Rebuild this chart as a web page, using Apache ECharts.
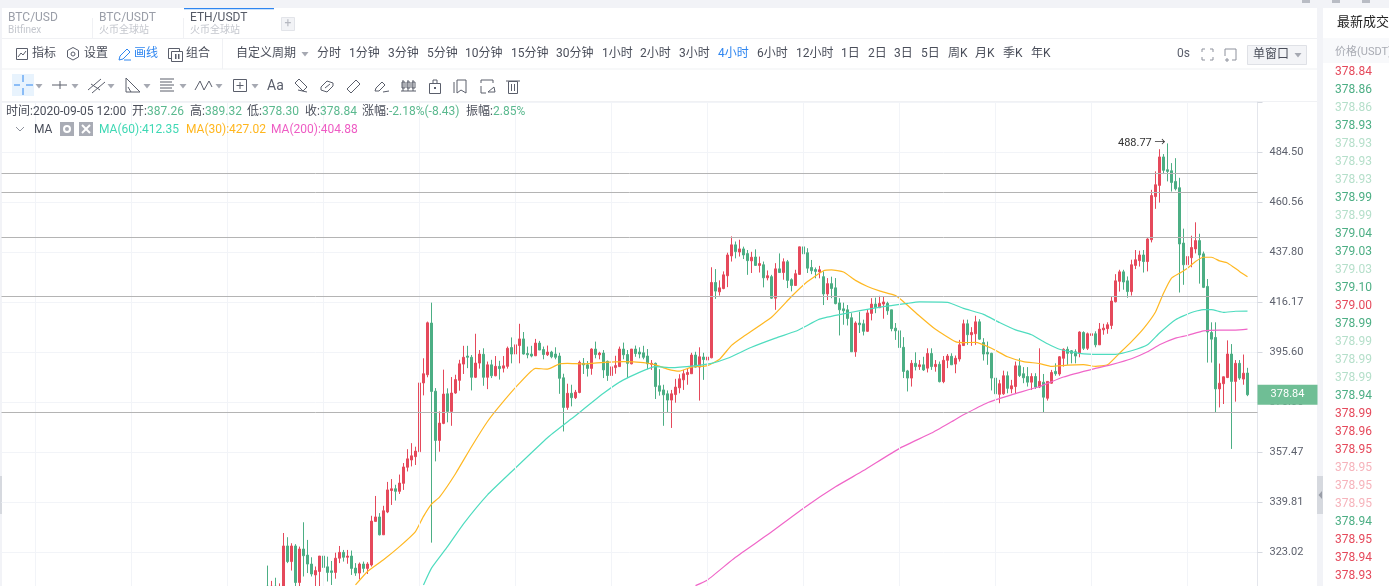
<!DOCTYPE html>
<html><head><meta charset="utf-8">
<style>html,body{margin:0;padding:0;background:#f2f3f7;overflow:hidden;height:586px}#c{width:1389px;height:640px}</style>
<script src="https://cdn.jsdelivr.net/npm/echarts@6/dist/echarts.min.js"></script>
</head><body><div id="c"></div>
<script>
const firstCandle = 66, categoryCount = 314;
const opens = [
312,309,312,309,311,325.0,319.9,325.0,313.2,324.0,
322.0,319.1,315.6,316.7,321.7,318.2,316.9,316.4,321.0,322.9,
321.3,321.7,317.8,316.2,319.1,317.7,318.8,333.2,334.7,328.7,
336.4,343.8,344.4,343.5,346.3,352.0,354.6,355.8,357.6,383.4,
386.6,407.4,380.2,361.7,368.0,379.2,372.5,379.5,384.4,390.8,
394.0,393.5,385.6,391.2,394.7,385.6,390.5,386.2,389.9,389.2,
389.9,397.4,394.8,398.2,400.9,395.0,394.8,394.1,399.2,396.6,
394.5,395.6,394.8,394.0,385.4,374.0,379.4,377.7,379.7,391.1,
390.5,389.1,396.8,394.5,395.2,391.9,386.3,389.4,389.8,396.8,
394.6,390.9,396.8,395.6,395.3,394.0,390.7,391.1,382.3,380.7,
379.2,376.8,378.9,381.5,384.6,386.7,387.0,394.4,389.6,393.6,
392.4,393.3,424.5,420.5,421.9,427.4,436.1,441.0,437.8,439.2,
437.1,433.9,435.6,431.9,432.2,426.5,427.0,417.8,430.4,428.8,
433.5,425.7,423.2,428.0,440.1,437.5,431.0,430.1,429.1,427.0,
419.6,424.0,422.2,415.8,413.3,412.9,409.6,395.7,407.4,407.1,
404.0,411.4,415.3,413.8,415.3,415.6,412.9,405.3,404.2,397.5,
388.1,385.3,391.1,389.8,390.5,389.2,395.0,389.8,390.7,383.9,
392.3,393.9,390.8,392.8,398.2,407.1,402.6,403.0,407.9,399.4,
395.5,395.1,385.3,379.0,379.2,386.2,381.1,382.0,390.1,387.0,
385.9,383.7,385.9,381.8,383.7,377.5,383.3,387.9,386.9,393.1,
396.7,396.1,395.7,395.1,403.5,397.1,402.3,403.0,398.5,404.6,
405.1,406.4,416.3,425.0,429.1,425.2,420.6,431.9,434.0,436.5,
433.6,443.3,463.1,468.4,482.1,475.9,475.4,470.3,467.3,441.8,
432.2,435.3,439.2,442.9,437.0,422.8,403.5,401.5,381.1,383.1,
385.5,394.8,384.0,391.1,384.9,387.26];
const closes = [
308,312,309,311,325.0,319.9,325.0,313.2,324.0,321.8,
319.1,315.9,317.0,321.7,318.0,316.4,316.4,321.0,322.9,321.3,
321.7,317.7,316.2,319.1,317.7,319.1,333.3,334.7,328.7,336.8,
344.0,344.4,343.5,346.4,352.1,355.0,356.1,357.8,383.4,387.0,
407.5,380.1,361.7,368.1,379.1,372.5,379.5,384.7,390.9,393.5,
393.5,385.6,391.2,394.8,385.6,390.5,386.2,389.9,389.0,390.1,
397.1,394.8,398.5,400.9,394.8,394.5,394.0,399.2,396.4,394.6,
395.6,393.7,393.5,385.2,374.0,379.4,377.7,379.8,391.5,390.5,
389.1,396.8,394.6,395.2,388.5,386.3,389.7,390.2,396.8,394.5,
391.1,396.8,395.0,394.8,393.5,390.9,391.1,382.0,380.2,378.8,
376.8,379.2,381.8,385.0,387.0,387.5,394.4,389.6,393.7,392.6,
393.6,424.5,420.8,422.2,427.8,436.5,441.0,438.0,439.2,436.5,
434.0,435.5,431.9,432.7,426.5,427.4,417.8,430.4,428.8,433.5,
425.4,423.2,428.3,440.1,437.0,430.7,429.6,429.3,430.0,419.6,
424.0,421.9,415.5,412.9,412.5,409.3,395.7,407.4,406.7,404.0,
411.6,415.3,413.8,415.6,416.2,412.5,405.1,404.2,397.4,387.9,
385.3,391.1,389.8,390.5,388.5,395.0,389.8,390.7,383.9,392.3,
394.0,390.5,393.1,398.5,407.1,402.6,403.5,407.9,400.8,394.8,
394.8,385.3,379.2,383.1,386.2,381.3,382.3,390.1,386.3,385.4,
383.7,385.9,381.8,384.0,377.9,384.0,387.5,387.0,393.7,396.7,
395.1,395.1,394.0,403.7,397.1,403.0,403.0,398.5,404.9,405.3,
406.7,416.6,425.2,429.1,424.7,420.6,432.2,434.4,436.5,433.6,
443.6,463.6,468.7,482.1,475.6,475.1,469.8,466.8,441.4,432.2,
435.8,439.8,442.9,436.5,422.4,403.7,400.8,381.1,383.3,385.8,
394.8,384.0,391.1,385.3,387.2,378.84];
const lows = [
305,306,307,307,308,319.4,317.0,311,311.5,315.1,
316.2,315.1,311.0,310.5,313.5,313.5,312.4,314.4,319.4,319.9,
319.2,315.6,315.3,314.2,316.4,315.9,318.3,333.2,328.5,328.7,
336.0,338.8,340.3,342.6,344.0,350.5,352.3,352.8,357.6,378.6,
385.6,326.1,354.1,357.6,367.7,368.4,367.1,379.2,380.4,386.9,
389.2,380.5,385.3,389.0,382.3,381.0,385.3,386.0,384.7,387.5,
389.0,391.1,394.8,391.1,394.6,393.1,393.5,394.0,396.4,392.7,
394.0,393.1,392.7,379.2,365.0,373.1,374.4,377.2,379.4,386.9,
385.9,386.6,393.1,392.7,385.3,384.2,386.2,387.0,389.8,392.7,
385.3,390.7,393.7,393.1,392.7,388.8,388.5,377.2,378.5,367.1,
372.2,366.3,375.8,379.4,380.7,382.7,387.0,389.4,376.6,384.6,
387.5,393.1,417.5,418.9,421.6,422.5,433.6,435.0,435.8,434.7,
427.8,428.6,431.7,428.8,422.4,425.4,417.5,412.9,428.6,425.7,
422.1,420.7,423.1,427.8,434.3,428.6,428.1,426.3,426.3,414.9,
417.0,417.8,415.2,402.3,406.7,406.4,395.7,393.7,403.3,402.3,
403.7,408.5,411.5,413.6,409.2,410.8,404.0,400.5,395.1,385.3,
380.1,382.0,388.3,388.5,388.1,387.5,388.5,387.8,383.6,383.3,
389.2,390.5,387.2,391.8,398.1,398.5,398.1,398.5,400.5,392.2,
390.5,380.5,370.2,375.6,378.8,379.4,379.4,379.4,385.7,383.3,
382.0,380.7,381.1,381.4,372.1,376.6,383.1,386.2,386.2,389.8,
390.5,391.1,391.1,393.5,396.4,396.4,398.5,397.5,398.5,402.6,
403.0,404.9,416.0,420.6,421.4,418.0,418.9,430.3,431.4,428.8,
429.3,442.1,457.4,460.3,473.8,470.3,465.5,466.0,420.2,423.5,
421.1,431.1,437.2,424.0,422.1,391.4,391.4,372.2,374.0,375.3,
385.3,358.6,376.2,384.6,382.7,378.30];
const highs = [
318.6,313.7,314.7,312.9,329.3,327.9,325.9,325.6,324.8,332.9,
327.0,321.3,318.3,321.7,322.9,321.5,320.1,322.8,325.0,323.7,
323.7,323.5,319.4,319.6,319.9,319.7,335.1,341.9,336.0,338.5,
346.8,347.8,345.8,349.4,353.5,358.5,360.7,359.4,388.6,393.1,
408.0,415.9,381.4,372.5,388.6,381.3,385.7,386.6,392.5,398.1,
398.1,394.4,403.0,396.4,397.1,391.8,392.5,394.0,392.1,394.0,
397.8,401.5,401.9,407.1,403.7,397.8,398.1,400.9,400.1,397.8,
398.2,396.1,397.5,395.3,387.0,383.1,382.7,380.7,392.2,393.2,
392.0,397.1,399.8,395.7,396.4,392.2,391.1,394.1,397.8,399.4,
396.4,396.8,398.2,397.5,398.1,396.8,392.4,391.4,388.8,382.7,
380.5,380.7,385.0,386.8,388.5,389.2,395.3,395.7,397.5,395.3,
395.0,431.1,430.3,425.4,429.3,437.5,444.8,442.5,443.3,440.2,
438.7,437.9,439.0,435.8,433.6,429.7,427.8,432.9,437.2,435.0,
434.3,426.3,430.0,440.2,445.1,439.5,434.3,431.0,431.7,429.3,
426.4,427.0,426.4,417.8,415.9,414.9,411.5,408.1,412.1,408.8,
412.9,417.8,418.0,418.8,418.5,416.3,412.9,407.4,406.4,401.6,
388.5,392.4,395.5,392.4,393.7,397.1,397.1,392.4,391.8,394.0,
394.8,395.1,394.2,400.5,408.8,408.8,405.7,410.4,409.0,401.2,
399.8,395.3,387.5,384.6,388.2,387.9,384.6,391.8,393.1,389.6,
389.6,387.2,387.2,397.1,386.9,384.0,388.5,391.1,394.0,397.1,
397.8,396.4,396.7,404.0,404.0,403.5,405.7,404.0,407.4,407.1,
407.7,418.5,428.1,430.0,430.0,427.1,434.4,438.7,438.4,438.7,
444.0,466.3,475.1,485.9,483.5,488.77,479.1,481.5,472.0,448.3,
439.0,445.1,451.2,446.0,438.0,426.0,407.7,407.7,391.0,385.9,
400.3,398.8,392.4,392.4,394.6,389.32];

// moving averages: [candle index, value] read at sampled positions
const ma30 = [[88,312.4],[91,316.7],[95,320.5],[99,324.8],[103,329.8],[105,334.9],[107,339.1],[109,341.5],[113,349.7],[117,359.4],[121,368.7],[124,374.5],[129,383.3],[133,389.1],[136,388.8],[139,390.9],[141,391.1],[145,390.9],[150,391.5],[155,391.8],[160,391.4],[163,390.5],[166,388.8],[169,388.0],[172,389.6],[176,390.2],[179,392.7],[182,398.3],[185,401.9],[192,409.8],[197,418.5],[201,424.9],[205,429.6],[207,430.0],[210,429.0],[213,425.4],[216,422.8],[219,420.9],[223,418.9],[225,416.3],[229,410.3],[233,404.8],[238,399.8],[240,399.4],[243,399.5],[247,397.1],[251,393.7],[255,391.8],[259,391.0],[262,389.9],[266,390.4],[270,390.6],[273,389.9],[276,390.5],[279,395.1],[282,399.8],[285,405.1],[288,412.0],[290,419.9],[292,426.4],[294,428.5],[296,430.7],[298,433.6],[300,435.5],[302,435.5],[304,433.9],[306,433.0],[309,429.3],[311,427.02]];
const ma60 = [[105,312.4],[107,317.8],[111,324.8],[115,332.4],[121,342.3],[127,350.4],[136,362.7],[142,369.7],[150,379.4],[155,384.6],[163,389.8],[167,389.4],[173,390.2],[177,391.1],[181,393.1],[187,397.5],[193,401.2],[198,404.0],[200,405.6],[204,409.0],[210,411.2],[218,413.7],[226,415.6],[229,416.2],[236,416.0],[240,413.5],[245,411.0],[249,407.6],[253,404.6],[257,402.6],[261,398.9],[264,396.7],[269,395.1],[274,394.7],[278,394.7],[282,396.1],[286,398.5],[289,403.3],[293,408.8],[297,411.8],[300,413.0],[302,413.0],[305,411.8],[308,412.3],[311,412.35]];
const ma200 = [[173,312.2],[176,314.0],[183,321.3],[191,328.7],[200,337.7],[208,345.1],[215,350.8],[224,358.8],[232,364.4],[237,368.6],[240,371.2],[246,375.8],[252,378.8],[259,382.0],[265,385.7],[273,389.1],[277,390.6],[282,392.9],[286,395.7],[289,398.5],[293,401.2],[296,402.3],[300,404.2],[304,404.5],[308,404.5],[311,404.88]];

const tickLabels = ['323.02','339.81','357.47','376.06','395.60','416.17','437.80','460.56','484.50'];
const drawnLevels = [474.3,465.0,444.5,418.6,372.2];
const gridColumns = [8,32,56,80,104,128,152,176,200,224,248,272,296];
const lastPrice = 378.84, peakIndex = 291, peakPrice = 488.77;

const tabs = [['BTC/USD','Bitfinex',8,'#9a9ea8'],['BTC/USDT','火币全球站',99,'#9a9ea8'],['ETH/USDT','火币全球站',190,'#555a66']];
const leftTools = [['指标',32],['设置',84],['画线',134],['组合',186]];
const periods = [['分时',317],['1分钟',349],['3分钟',388],['5分钟',427],['10分钟',465],['15分钟',511],['30分钟',556],['1小时',602],['2小时',640],['3小时',679],['4小时',718],['6小时',757],['12小时',796],['1日',841],['2日',868],['3日',894],['5日',921],['周K',948],['月K',975],['季K',1003],['年K',1031]];
const statusItems = [['时间:2020-09-05 12:00',6,'#4a4e5a'],['开:',132,'#4a4e5a'],['387.26',147,'#5bb98f'],['高:',190,'#4a4e5a'],['389.32',205,'#5bb98f'],['低:',247,'#4a4e5a'],['378.30',262,'#5bb98f'],['收:',305,'#4a4e5a'],['378.84',320,'#5bb98f'],['涨幅:',362,'#4a4e5a'],['-2.18%(-8.43)',389,'#5bb98f'],['振幅:',466,'#4a4e5a'],['2.85%',493,'#5bb98f']];
const maItems = [['MA(60):412.35',99,'#3fd8b4'],['MA(30):427.02',186,'#ffb61e'],['MA(200):404.88',271,'#ee5cc4']];
const G='#4cae84',GL='#b5dfca',R='#e5495b',RL='#f6b3bb';
const trades = [['378.84',R],['378.86',G],['378.86',GL],['378.93',G],['378.93',GL],['378.93',GL],['378.93',GL],['378.99',G],['378.99',GL],['379.04',G],['379.03',G],['379.03',GL],['379.10',G],['379.00',R],['378.99',G],['378.99',GL],['378.99',GL],['378.99',GL],['378.94',G],['378.99',R],['378.96',R],['378.95',R],['378.95',RL],['378.95',RL],['378.95',RL],['378.94',G],['378.95',R],['378.94',R],['378.93',R]];

const FONT='Roboto,"Noto Sans CJK SC",sans-serif';
const logBase = Math.pow(323.02, 1/114);
const candles = [];
for (let i=0;i<categoryCount;i++){
  const k=i-firstCandle;
  candles.push(k>=0&&k<opens.length?[opens[k],closes[k],lows[k],highs[k]]:['-','-','-','-']);
}
const categories=[]; const t0=Date.UTC(2020,8,5,12)-311*4*3600e3;
for(let i=0;i<categoryCount;i++){categories.push(new Date(t0+i*4*3600e3).toISOString().slice(0,16).replace('T',' '));}

const g=[];
const T=(x,y,text,fill,size,extra)=>g.push({type:'text',z:20,silent:true,style:Object.assign({x,y,text,fill,font:(size||12)+'px '+FONT,textVerticalAlign:'middle'},extra||{})});
const B=(x,y,w,h,fill,stroke,z)=>g.push({type:'rect',z:z==null?-5:z,silent:true,shape:{x,y,width:w,height:h},style:{fill:fill||'none',stroke:stroke||'none',lineWidth:1}});
const P=(pts,stroke,w)=>g.push({type:'polyline',z:20,silent:true,shape:{points:pts},style:{stroke,fill:'none',lineWidth:w||1}});
const Tri=(x,y,c)=>g.push({type:'polygon',z:20,silent:true,shape:{points:[[x-3.5,y-2],[x+3.5,y-2],[x,y+2.5]]},style:{fill:c||'#a6a9b2'}});

// panels
B(0,0,1389,640,'#f2f3f7');
B(2,8,1315,632,'#ffffff');
B(1323,8,66,632,'#ffffff');
B(1323,38,66,25,'#f8f9fb');
B(1302,0,8,3,'#b9bcc4');B(1332,0,8,3,'#b9bcc4');B(1362,0,8,3,'#b9bcc4');
B(2,38,1315,1,'#f0f1f4');B(2,68.5,1315,1,'#f0f1f4');B(2,101,1315,1,'#f0f1f4');
B(222,39,1,30,'#f0f1f4');B(92,18,1,20,'#f0f1f4');B(183,18,1,20,'#f0f1f4');
B(184,8,90,1.2,'#2f86f0');
B(1317,476,6,38,'#d6d9df');B(0,476,2,38,'#d6d9df');
g.push({type:'polygon',z:20,silent:true,shape:{points:[[1318.5,495],[1322,491],[1322,499]]},style:{fill:'#9a9ea8'}});
// tabs
tabs.forEach(t=>{T(t[2],18,t[0],t[3],12);T(t[2],30,t[1],'#c4c7ce',10);});
B(281.5,17.5,13,13,'#f2f3f6','#e2e4e9',1);
T(288,24,'+','#b5b8c0',12,{textAlign:'center'});
// toolbar row
leftTools.forEach(t=>T(t[1],54,t[0],t[0]==='画线'?'#2f86f0':'#4a4e5a',12));
B(16.5,48.5,11,11,'none','#5a5e6b',20);P([[18,57],[21,53],[23,55],[26,51]],'#5a5e6b');
g.push({type:'polygon',z:20,silent:true,shape:{points:[[73,47.5],[78.5,50.5],[78.5,57],[73,60],[67.5,57],[67.5,50.5]]},style:{fill:'none',stroke:'#5a5e6b',lineWidth:1}});
g.push({type:'circle',z:20,silent:true,shape:{cx:73,cy:54,r:2},style:{fill:'none',stroke:'#5a5e6b'}});
P([[119,60],[120,56],[127,49],[130,52],[123,59],[119,60]],'#2f86f0');P([[124,60],[131,60]],'#2f86f0');
B(168.5,48.5,11,10,'none','#5a5e6b',20);B(171.5,51.5,11,10,'#ffffff','#5a5e6b',21);B(175,54,1.5,5,'#5a5e6b',null,22);B(178,54,1.5,5,'#5a5e6b',null,22);
T(236,54,'自定义周期','#4a4e5a',12);Tri(305,54);
periods.forEach(p=>T(p[1],54,p[0],p[0]==='4小时'?'#2f86f0':'#4a4e5a',12));
T(1177,54,'0s','#5a5e6b',12);
[[1202,49,1,1],[1213,49,-1,1],[1202,60,1,-1],[1213,60,-1,-1]].forEach(a=>{P([[a[0],a[1]+3*a[3]],[a[0],a[1]],[a[0]+3*a[2],a[1]]],'#8d919c');});
P([[1225,49],[1236,49],[1236,60],[1232,60]],'#8d919c');P([[1225,49],[1225,56]],'#8d919c');P([[1225,60],[1229,60]],'#8d919c');P([[1227,58],[1227,62]],'#8d919c');
B(1247.5,45.5,59,19,'#f3f4f7','#dfe1e6',1);
T(1253,55,'单窗口','#4a4e5a',12);Tri(1298,55);
// drawing tools row
B(12,74,22,22,'#e8f3fd',null,1);
P([[23,75],[23,82]],'#2f86f0');P([[23,88],[23,95]],'#2f86f0');P([[14,85],[20,85]],'#2f86f0');P([[26,85],[33,85]],'#2f86f0');
[39,75,111,147,183,219,255].forEach(x=>Tri(x,86));
const ic='#5a5e6b';
P([[52,85],[67,85]],ic);P([[60,81],[60,89]],ic);
P([[88,90],[101,79]],ic);P([[92,93],[105,82]],ic);P([[91,84],[100,90]],ic);
P([[126,78],[126,92],[140,92],[126,78]],ic);P([[131,92],[128,87]],ic);
[79,82,85,88,91].forEach((y,i)=>P([[160,y],[i%2?172:174,y]],ic));
P([[195,90],[200,81],[204,90],[209,81],[212,87]],ic);
B(233.5,79.5,13,12,'none',ic,20);P([[240,82],[240,89]],ic);P([[236.5,85.5],[243.5,85.5]],ic);
T(267,86,'Aa',ic,14);
[[295,80],[321,80],[347,80],[375,80],[402,80],[429,80],[454,80],[481,80],[507,80]].forEach((a,i)=>{
  const x=a[0],y=a[1];
  if(i===0){P([[x,y+3],[x+4,y-1],[x+12,y+7],[x+8,y+11],[x,y+3]],ic);P([[x+3,y+10],[x+12,y+12]],ic);}
  if(i===1){P([[x,y+7],[x+6,y+1],[x+12,y+3],[x+12,y+6],[x+6,y+12],[x,y+10],[x,y+7]],ic);P([[x+4,y+8],[x+9,y+4]],ic);}
  if(i===2){P([[x,y+9],[x+9,y],[x+13,y+4],[x+4,y+13],[x,y+9]],ic);}
  if(i===3){P([[x,y+11],[x+1,y+8],[x+7,y+2],[x+10,y+5],[x+4,y+11],[x,y+11]],ic);P([[x+8,y+12],[x+14,y+11]],ic);}
  if(i===4){[1,6,11].forEach(d=>{B(x+d-1,y+2,3,6,'none',ic,20);P([[x+d,y],[x+d,y+11]],ic);});P([[x-1,y+11],[x+14,y+11]],ic);}
  if(i===5){B(x+.5,y+3.5,11,10,'none',ic,20);P([[x+4,y+3],[x+4,y],[x+8,y],[x+8,y+3]],ic);B(x+5,y+7,2,2,ic,null,20);}
  if(i===6){P([[x+3,y],[x+12,y],[x+12,y+13],[x+7,y+10],[x+3,y+13],[x+3,y]],ic);P([[x,y+2],[x,y+13]],ic);}
  if(i===7){P([[x,y+3],[x,y],[x+12,y],[x+12,y+3]],ic);P([[x,y+6],[x,y+13],[x+5,y+13]],ic);P([[x+7,y+12],[x+13,y+7],[x+14,y+12],[x+7,y+12]],ic);}
  if(i===8){P([[x-1,y+1],[x+13,y+1]],ic);B(x+1.5,y+1.5,9,12,'none',ic,20);P([[x+4.5,y+4],[x+4.5,y+11]],ic);P([[x+7.5,y+4],[x+7.5,y+11]],ic);}
});
// status rows
statusItems.forEach(s=>T(s[1],111.5,s[0],s[2],12));
P([[16,127],[20,131],[24,127]],'#8d919c');
T(34,129.5,'MA','#4a4e5a',12);
B(60,122,14,14,'#a9acb5',null,1);g.push({type:'circle',z:20,silent:true,shape:{cx:67,cy:129,r:3},style:{fill:'none',stroke:'#fff',lineWidth:2}});
B(79,122,14,14,'#a9acb5',null,1);P([[82,125],[90,133]],'#fff',2);P([[90,125],[82,133]],'#fff',2);
maItems.forEach(s=>T(s[1],129.5,s[0],s[2],12));
// trades panel
T(1337,23,'最新成交','#222',13);
T(1335,52,'价格(USDT)','#a8abb3',11);
trades.forEach((r,i)=>T(1335,72+18*i,r[0],r[1],12));

const chart=echarts.init(document.getElementById('c'),null,{renderer:'canvas'});
chart.setOption({
  animation:false,
  backgroundColor:'transparent',
  graphic:{elements:g},
  grid:{left:1.5,width:1256,top:102,height:500,containLabel:false,outerBoundsMode:'none'},
  xAxis:{type:'category',data:categories,boundaryGap:true,axisLine:{show:false},axisTick:{show:false},axisLabel:{show:false},splitLine:{show:false}},
  yAxis:{type:'log',logBase:logBase,position:'right',scale:true,
    min:Math.pow(logBase,113),max:Math.pow(logBase,123),interval:1,
    axisLine:{show:true,lineStyle:{color:'#e4e6ec',width:1}},
    axisTick:{show:true,length:5,lineStyle:{color:'#d5d8df'}},
    splitLine:{show:true,lineStyle:{color:'#f2f4f8',width:1}},
    minorTick:{show:false},
    axisLabel:{margin:12,color:'#5d616d',fontSize:11,fontFamily:FONT,showMinLabel:false,showMaxLabel:false,padding:[2,0,0,0],
      formatter:v=>{const k=Math.round(Math.log(v)/Math.log(logBase))-114;return tickLabels[k]||'';}}},
  series:[
    {type:'line',z:1,data:[],silent:true,
     markLine:{silent:true,symbol:'none',label:{show:false},animation:false,
       data:gridColumns.map(i=>({xAxis:i,lineStyle:{color:'#f2f4f8',width:1,type:'solid'}})).concat(
            drawnLevels.map(v=>({yAxis:v,lineStyle:{color:'#b4b4b4',width:1,type:'solid'}})))}},
    {type:'candlestick',z:2,data:candles,barWidth:3,clip:true,silent:true,
     itemStyle:{color:'#e5495b',color0:'#4cae84',borderColor:'#e5495b',borderColor0:'#4cae84',borderWidth:1},
     markPoint:{silent:true,symbol:'circle',symbolSize:0,animation:false,
       data:[{coord:[peakIndex,peakPrice],label:{show:true,position:'left',distance:2,formatter:peakPrice+' →',color:'#333',fontSize:11,fontFamily:FONT}}]},
     markLine:{silent:true,symbol:'none',animation:false,
       data:[{yAxis:lastPrice,lineStyle:{color:'rgba(0,0,0,0)',width:1,type:'solid'},
         label:{show:true,position:'end',distance:30,formatter:String(lastPrice),color:'#fff',fontSize:11,fontFamily:FONT,
           backgroundColor:'#6fbe95',width:60,height:20,lineHeight:20,align:'center',verticalAlign:'middle'}}]}},
    {type:'line',z:3,name:'MA(30)',data:ma30,showSymbol:false,symbol:'none',silent:true,smooth:0.15,lineStyle:{color:'#ffb822',width:1.2}},
    {type:'line',z:3,name:'MA(60)',data:ma60,showSymbol:false,symbol:'none',silent:true,smooth:0.15,lineStyle:{color:'#4fdcbf',width:1.2}},
    {type:'line',z:3,name:'MA(200)',data:ma200,showSymbol:false,symbol:'none',silent:true,smooth:0.15,lineStyle:{color:'#f066c8',width:1.2}}
  ]
});
</script></body></html>
